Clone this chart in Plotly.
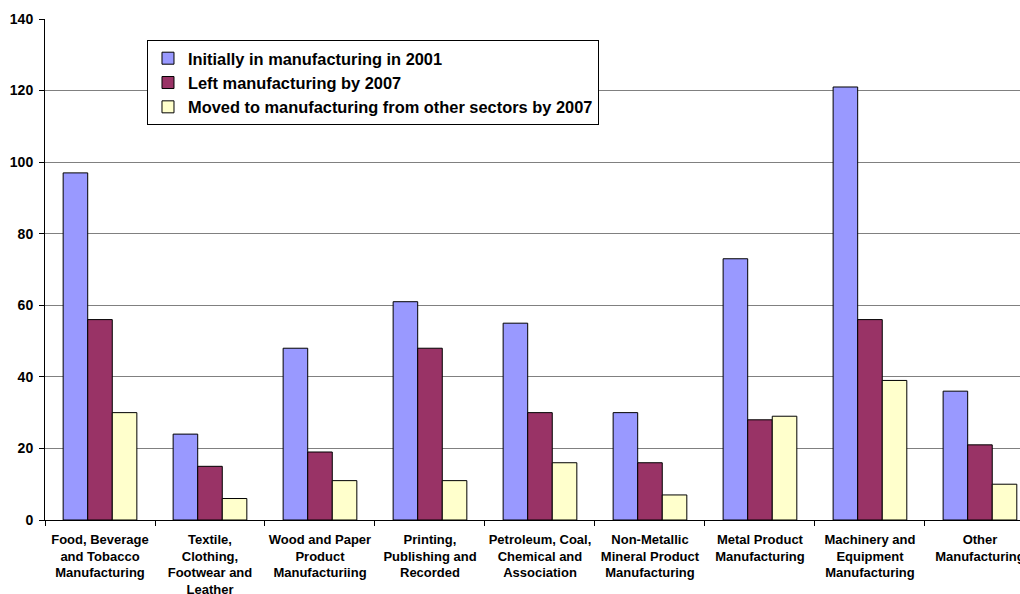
import plotly.graph_objects as go

categories = [
    "Food, Beverage<br>and Tobacco<br>Manufacturing",
    "Textile,<br>Clothing,<br>Footwear and<br>Leather",
    "Wood and Paper<br>Product<br>Manufacturiing",
    "Printing,<br>Publishing and<br>Recorded",
    "Petroleum, Coal,<br>Chemical and<br>Association",
    "Non-Metallic<br>Mineral Product<br>Manufacturing",
    "Metal Product<br>Manufacturing",
    "Machinery and<br>Equipment<br>Manufacturing",
    "Other<br>Manufacturing",
]
initially_2001 = [97, 24, 48, 61, 55, 30, 73, 121, 36]
left_2007 = [56, 15, 19, 48, 30, 16, 28, 56, 21]
moved_2007 = [30, 6, 11, 11, 16, 7, 29, 39, 10]

series = [
    ("Initially in manufacturing in 2001", initially_2001, "#9999FF"),
    ("Left manufacturing by 2007", left_2007, "#993366"),
    ("Moved to manufacturing from other sectors by 2007", moved_2007, "#FFFFCC"),
]

FONT = "Liberation Sans, Arial, sans-serif"

fig = go.Figure()
for name, vals, color in series:
    fig.add_trace(go.Bar(
        x=categories, y=vals, name=name,
        marker=dict(color=color, line=dict(color="black", width=1)),
    ))

fig.update_layout(
    width=1020, height=594,
    margin=dict(l=45, r=0, t=19, b=74, autoexpand=False),
    paper_bgcolor="white", plot_bgcolor="white",
    barmode="group", bargap=0.33, bargroupgap=0,
    font=dict(family=FONT, size=13, color="black", weight="bold"),
    legend=dict(
        x=0.1046, y=0.958, xanchor="left", yanchor="top",
        bordercolor="black", borderwidth=1, bgcolor="white",
        font=dict(family=FONT, size=16.4, color="black", weight="bold"),
        tracegroupgap=0, itemwidth=30,
    ),
    showlegend=True,
)
fig.update_xaxes(
    type="category", range=[-0.5, 8.364],
    showline=True, linecolor="black", linewidth=1,
    ticks="outside", tickson="boundaries", ticklen=5, tickcolor="black",
    showgrid=False, tickangle=0, automargin=False, ticklabelstandoff=7,
    tickfont=dict(family=FONT, size=13, color="black", weight="bold"),
)
fig.update_yaxes(
    range=[0, 140], tickvals=[0, 20, 40, 60, 80, 100, 120, 140],
    showline=True, linecolor="black", linewidth=1,
    ticks="outside", ticklen=5, tickcolor="black",
    showgrid=True, gridcolor="#808080", gridwidth=1,
    zeroline=False, automargin=False, ticklabelstandoff=3,
    tickfont=dict(family=FONT, size=14, color="black", weight="bold"),
)

fig.write_html(
    "out.html",
    config={"displayModeBar": False},
    post_script="document.body.style.margin='0';document.body.style.overflow='hidden';",
)
